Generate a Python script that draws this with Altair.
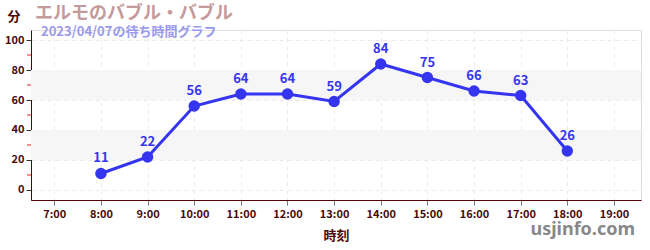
import altair as alt
import pandas as pd

hours = [8, 9, 10, 11, 12, 13, 14, 15, 16, 17, 18]
waits = [11, 22, 56, 64, 64, 59, 84, 75, 66, 63, 26]
band_lo = [20, 60]
band_hi = [40, 80]
minor_ticks = [10, 30, 50, 70, 90]
title_text = "エルモのバブル・バブル"
subtitle_text = "2023/04/07の待ち時間グラフ"
y_unit = "分"
x_title = "時刻"
brand = "usjinfo.com"

FONT = "Noto Sans CJK JP"
W, H = 610, 170

df = pd.DataFrame({"h": hours, "w": waits})
bands = pd.DataFrame({"lo": band_lo, "hi": band_hi})
minor = pd.DataFrame({"m": minor_ticks})

xs = alt.Scale(domain=[6.5, 19.58], nice=False, zero=False)
ys = alt.Scale(domain=[-6.67, 106.67], nice=False, zero=False)

yaxis = alt.Axis(values=list(range(0, 101, 20)),
                 labelOverlap=False,
                 grid=True, gridDash=[4, 4], gridColor="#e8e8e8",
                 tickColor="#333", tickSize=5, domainColor="#5a0000", labelColor="#4a0a0a",
                 labelFont=FONT, labelFontWeight="bold", labelFontSize=11,
                 labelPadding=2)
xaxis = alt.Axis(values=list(range(7, 20)), labelExpr="datum.value + ':00'",
                 labelOverlap=False,
                 grid=True, gridDash=[4, 4], gridColor="#ececec",
                 tickColor="#777", tickSize=5,
                 domainColor="#5a0000", labelColor="#4a0a0a",
                 labelFont=FONT, labelFontWeight="bold", labelFontSize=11,
                 titleFont=FONT, titleFontWeight="bold", titleFontSize=13,
                 titleColor="#4a0a0a", titlePadding=10, labelPadding=3)

X = lambda f: alt.X(f, scale=xs, title=x_title, axis=xaxis)
Y = lambda f: alt.Y(f, scale=ys, title=None, axis=yaxis)

axes_layer = alt.Chart(df).mark_point(opacity=0).encode(x=X("h:Q"), y=Y("w:Q"))

band_layer = alt.Chart(bands).mark_rect(color="#f6f6f6").encode(
    x=alt.value(0), x2=alt.value(W), y=Y("lo:Q"), y2="hi:Q")

minor_layer = alt.Chart(minor).mark_rule(color="#e02020", strokeWidth=1).encode(
    x=alt.value(-4), x2=alt.value(0), y=Y("m:Q"))

line = alt.Chart(df).mark_line(color="#3535f0", strokeWidth=3).encode(x=X("h:Q"), y=Y("w:Q"))
pts = alt.Chart(df).mark_circle(color="#3535f0", size=130, opacity=1).encode(x=X("h:Q"), y=Y("w:Q"))
labels = alt.Chart(df).mark_text(color="#3535f0", font=FONT, fontWeight="bold",
                                 fontSize=13, dy=-15).encode(
    x=X("h:Q"), y=Y("w:Q"), text="w:Q")

def txt(s, x, y, size, color, align="left", weight="bold", font=FONT):
    return alt.Chart(pd.DataFrame({"t": [s]})).mark_text(
        align=align, baseline="middle", fontSize=size, color=color,
        fontWeight=weight, font=font).encode(
        x=alt.value(x), y=alt.value(y), text="t:N")

t1 = txt(title_text, 4, -16, 18, "#c49a9a")
t2 = txt(subtitle_text, 10, 2, 13, "#9a9aee")
t3 = txt(y_unit, -17, -13, 13, "#4a0a0a", align="center")
t4 = txt(brand, 604, 200, 18, "#888888", align="right", font="Noto Sans")

chart = alt.layer(axes_layer, band_layer, minor_layer, line, pts, labels, t1, t2, t3, t4).properties(
    width=W, height=H,
    autosize=alt.AutoSizeParams(type="none"),
    padding={"left": 31, "top": 30, "right": 9, "bottom": 50},
).configure_view(stroke=None).configure(background="white")

chart.save("out.html", embed_options={"renderer": "svg", "actions": False})
